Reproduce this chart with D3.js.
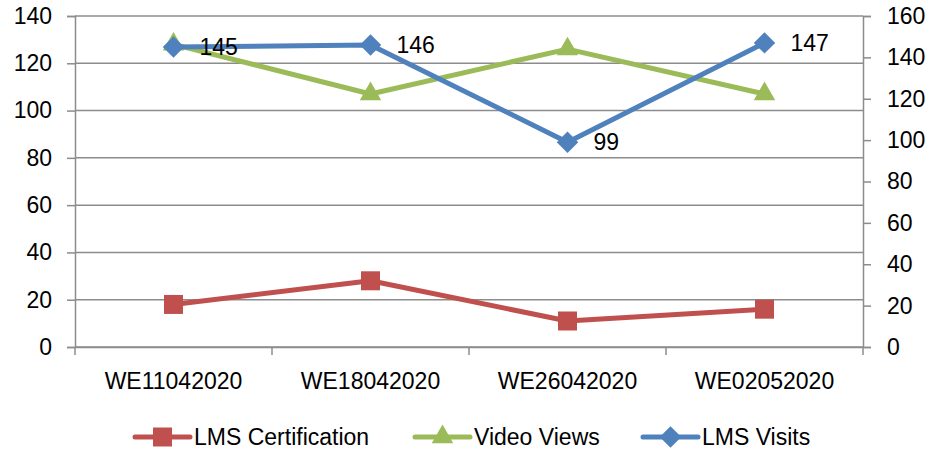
<!DOCTYPE html>
<html lang="en">
<head>
  <meta charset="UTF-8" />
  <title>LMS weekly activity</title>
  <script src="https://d3js.org/d3.v7.min.js"></script>
  <style>
    body {
      margin: 0;
      background: #fff;
      font-family: "Liberation Sans", Arial, sans-serif;
    }
    svg text {
      fill: #000;
    }
  </style>
</head>
<body>
  <div id="chart"></div>

  <script>
    const weeks = ["WE11042020", "WE18042020", "WE26042020", "WE02052020"];
    const lmsCertification = [18, 28, 11, 16];   // left axis
    const videoViews = [128, 107, 126, 107];     // left axis
    const lmsVisits = [145, 146, 99, 147];       // right axis
    const leftTicks = [0, 20, 40, 60, 80, 100, 120, 140];
    const rightTicks = [0, 20, 40, 60, 80, 100, 120, 140, 160];

    const width = 932;
    const height = 451;
    const margin = { top: 16, right: 69, bottom: 104, left: 75 };

    const svg = d3.select("#chart")
      .append("svg")
      .attr("width", width)
      .attr("height", height);

    const x = d3.scaleBand()
      .domain(weeks)
      .range([margin.left, width - margin.right]);

    const yLeft = d3.scaleLinear()
      .domain([0, 140])
      .range([height - margin.bottom, margin.top]);

    const yRight = d3.scaleLinear()
      .domain([0, 160])
      .range([height - margin.bottom, margin.top]);

    const gridColor = "#8c8c8c";
    const fontSize = 23;
    const fontFamily = "Liberation Sans, Arial, sans-serif";

    // square diamond (rotated square), size = area
    const diamond = {
      draw(ctx, size) {
        const r = Math.sqrt(size / 2);
        ctx.moveTo(0, -r);
        ctx.lineTo(r, 0);
        ctx.lineTo(0, r);
        ctx.lineTo(-r, 0);
        ctx.closePath();
      }
    };

    // left axis
    const leftAxis = svg.append("g")
      .attr("transform", `translate(${margin.left},0)`)
      .call(d3.axisLeft(yLeft).tickValues(leftTicks).tickSize(8).tickPadding(15));
    leftAxis.select(".domain").attr("stroke", gridColor).attr("stroke-width", 1.5);
    leftAxis.selectAll(".tick line").attr("stroke", gridColor).attr("stroke-width", 1.5);
    leftAxis.selectAll("text").attr("font-size", fontSize).attr("font-family", fontFamily);

    // gridlines
    svg.append("g")
      .selectAll("line")
      .data(leftTicks)
      .join("line")
      .attr("x1", margin.left)
      .attr("x2", width - margin.right)
      .attr("y1", d => yLeft(d))
      .attr("y2", d => yLeft(d))
      .attr("stroke", gridColor)
      .attr("stroke-width", 1.5);

    // right axis
    const rightAxis = svg.append("g")
      .attr("transform", `translate(${width - margin.right},0)`)
      .call(d3.axisRight(yRight).tickValues(rightTicks).tickSize(8).tickPadding(16));
    rightAxis.select(".domain").attr("stroke", gridColor).attr("stroke-width", 1.5);
    rightAxis.selectAll(".tick line").attr("stroke", gridColor).attr("stroke-width", 1.5);
    rightAxis.selectAll("text").attr("font-size", fontSize).attr("font-family", fontFamily);

    // bottom axis: ticks between categories
    const bottom = height - margin.bottom;
    const bottomAxis = svg.append("g")
      .attr("transform", `translate(0,${bottom})`)
      .call(d3.axisBottom(x).tickSize(0).tickPadding(26));
    bottomAxis.select(".domain").attr("stroke", gridColor).attr("stroke-width", 1.5);
    bottomAxis.selectAll("text").attr("font-size", fontSize).attr("font-family", fontFamily);

    const bounds = weeks.map(w => x(w)).concat([x(weeks[weeks.length - 1]) + x.bandwidth()]);
    svg.append("g")
      .selectAll("line")
      .data(bounds)
      .join("line")
      .attr("x1", d => d)
      .attr("x2", d => d)
      .attr("y1", bottom)
      .attr("y2", bottom + 8)
      .attr("stroke", gridColor)
      .attr("stroke-width", 1.5);

    const cx = w => x(w) + x.bandwidth() / 2;

    const series = [
      { name: "LMS Certification", values: lmsCertification, scale: yLeft, color: "#C0504D", symbol: d3.symbolSquare, size: 361 },
      { name: "Video Views", values: videoViews, scale: yLeft, color: "#9BBB59", symbol: d3.symbolTriangle, size: 200 },
      { name: "LMS Visits", values: lmsVisits, scale: yRight, color: "#4F81BD", symbol: diamond, size: 230 }
    ];

    const line = d3.line();

    series.forEach(s => {
      const pts = weeks.map((w, i) => [cx(w), s.scale(s.values[i])]);
      svg.append("path")
        .attr("d", line(pts))
        .attr("fill", "none")
        .attr("stroke", s.color)
        .attr("stroke-width", 5)
        .attr("stroke-linejoin", "round");
      svg.append("g")
        .selectAll("path")
        .data(pts)
        .join("path")
        .attr("transform", d => `translate(${d[0]},${d[1]})`)
        .attr("d", d3.symbol().type(s.symbol).size(s.size))
        .attr("fill", s.color);
    });

    // data labels on LMS Visits
    svg.append("g")
      .selectAll("text")
      .data(lmsVisits)
      .join("text")
      .attr("x", (d, i) => cx(weeks[i]) + 26)
      .attr("y", d => yRight(d))
      .attr("dy", "0.35em")
      .attr("font-size", fontSize)
      .attr("font-family", fontFamily)
      .text(d => d);

    // legend
    const legendY = 437;
    const legendX = [135, 415, 643];
    const legend = svg.append("g")
      .selectAll("g")
      .data(series)
      .join("g")
      .attr("transform", (d, i) => `translate(${legendX[i]},${legendY})`);

    legend.append("line")
      .attr("x1", 0)
      .attr("x2", 55)
      .attr("stroke", d => d.color)
      .attr("stroke-width", 5)
      .attr("stroke-linecap", "round");
    legend.append("path")
      .attr("transform", "translate(27.5,0)")
      .attr("d", d => d3.symbol().type(d.symbol).size(d.size)())
      .attr("fill", d => d.color);
    legend.append("text")
      .attr("x", 59)
      .attr("dy", "0.35em")
      .attr("font-size", fontSize)
      .attr("font-family", fontFamily)
      .text(d => d.name);
  </script>
</body>
</html>
